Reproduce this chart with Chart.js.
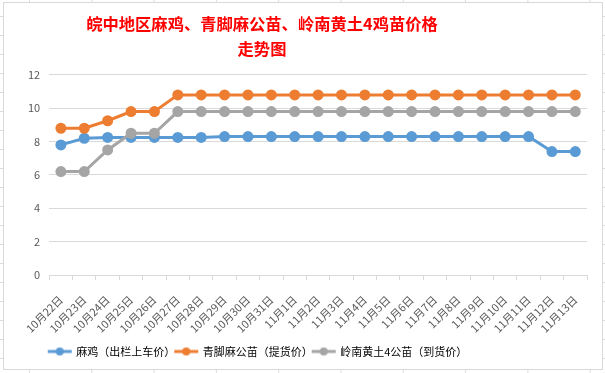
<!DOCTYPE html>
<html>
<head>
<meta charset="utf-8">
<script src="https://cdn.jsdelivr.net/npm/chart.js@4/dist/chart.umd.min.js"></script>
<style>
html, body { margin: 0; padding: 0; }
body {
    width: 605px; height: 373px; overflow: hidden; background-color: #fff;
    /* spreadsheet cell lines behind the chart */
    background-image: linear-gradient(to right, #dcdcdc 1px, transparent 1px),
                      linear-gradient(to bottom, #dcdcdc 1px, transparent 1px);
    background-size: 62.3px 19px;
    background-position: 29px 16px;
}
#box {
    position: absolute; left: 3px; top: 2px; width: 600px; height: 368px;
    box-sizing: border-box; border: 1px solid #d9d9d9; background: #fff;
}
canvas { display: block; }
</style>
</head>
<body>
<div id="box"><canvas id="priceChart" width="598" height="366"></canvas></div>
<script>
const days = [
    "10月22日", "10月23日", "10月24日", "10月25日", "10月26日", "10月27日", "10月28日",
    "10月29日", "10月30日", "10月31日", "11月1日", "11月2日", "11月3日", "11月4日",
    "11月5日", "11月6日", "11月7日", "11月8日", "11月9日", "11月10日", "11月11日",
    "11月12日", "11月13日"
];

// 麻鸡（出栏上车价）
const maJi = [7.8, 8.2, 8.25, 8.25, 8.25, 8.25, 8.25, 8.3, 8.3, 8.3, 8.3, 8.3,
              8.3, 8.3, 8.3, 8.3, 8.3, 8.3, 8.3, 8.3, 8.3, 7.4, 7.4];
// 青脚麻公苗（提货价）
const qingJiao = [8.8, 8.8, 9.25, 9.8, 9.8, 10.8, 10.8, 10.8, 10.8, 10.8, 10.8, 10.8,
                  10.8, 10.8, 10.8, 10.8, 10.8, 10.8, 10.8, 10.8, 10.8, 10.8, 10.8];
// 岭南黄土4公苗（到货价）
const lingNan = [6.2, 6.2, 7.5, 8.5, 8.5, 9.8, 9.8, 9.8, 9.8, 9.8, 9.8, 9.8,
                 9.8, 9.8, 9.8, 9.8, 9.8, 9.8, 9.8, 9.8, 9.8, 9.8, 9.8];

const yTicks = [0, 2, 4, 6, 8, 10, 12];

const FONT = "'Noto Sans CJK SC', 'Noto Sans', sans-serif";
const TEXT_COLOR = "#595959";
const GRID_COLOR = "#d9d9d9";

// small line-with-dot picture for the legend, like Excel's marker
function legendMarker(color) {
    const c = document.createElement("canvas");
    c.width = 26;
    c.height = 10;
    const g = c.getContext("2d");
    g.strokeStyle = color;
    g.lineWidth = 3;
    g.beginPath();
    g.moveTo(1, 5);
    g.lineTo(25, 5);
    g.stroke();
    g.fillStyle = color;
    g.beginPath();
    g.arc(13, 5, 4, 0, Math.PI * 2);
    g.fill();
    return c;
}

// title and legend sit left of the canvas centre in the original
const shiftBoxes = {
    id: "shiftBoxes",
    afterLayout(chart) {
        chart.titleBlock.left -= 41;
        chart.titleBlock.right -= 41;
        chart.legend.left -= 45;
        chart.legend.right -= 45;
    }
};

function series(label, data, color, order) {
    return {
        label: label,
        data: data,
        borderColor: color,
        backgroundColor: color,
        borderWidth: 3,
        pointRadius: 4,
        pointHoverRadius: 4,
        pointBackgroundColor: color,
        pointBorderColor: color,
        tension: 0,
        fill: false,
        order: order
    };
}

const ctx = document.getElementById("priceChart").getContext("2d");
new Chart(ctx, {
    type: "line",
    data: {
        labels: days,
        datasets: [
            series("麻鸡（出栏上车价）", maJi, "#5b9bd5", 3),
            series("青脚麻公苗（提货价）", qingJiao, "#ed7d31", 2),
            series("岭南黄土4公苗（到货价）", lingNan, "#a5a5a5", 1)
        ]
    },
    options: {
        responsive: false,
        devicePixelRatio: 1,
        animation: false,
        layout: { padding: { left: 15, right: 15, top: 0, bottom: 2 } },
        plugins: {
            title: {
                display: true,
                text: ["皖中地区麻鸡、青脚麻公苗、岭南黄土4鸡苗价格", "走势图"],
                color: "#ff0000",
                font: { family: FONT, size: 16.3, weight: "bold", lineHeight: 1.53 },
                padding: { top: 8, bottom: 14 }
            },
            legend: {
                position: "bottom",
                labels: {
                    color: TEXT_COLOR,
                    font: { family: FONT, size: 11 },
                    usePointStyle: true,
                    pointStyleWidth: 22,
                    padding: 0,
                    generateLabels: chart => chart.data.datasets.map((ds, i) => ({
                        text: ds.label,
                        fillStyle: ds.borderColor,
                        strokeStyle: ds.borderColor,
                        lineWidth: 0,
                        pointStyle: legendMarker(ds.borderColor),
                        hidden: !chart.isDatasetVisible(i),
                        datasetIndex: i
                    }))
                }
            },
            tooltip: { enabled: false }
        },
        scales: {
            x: {
                offset: true,
                afterFit: scale => { scale.height = 71; },
                grid: {
                    offset: true,
                    drawOnChartArea: false,
                    drawTicks: true,
                    tickLength: 5,
                    color: GRID_COLOR
                },
                border: { display: true, color: GRID_COLOR },
                ticks: {
                    color: TEXT_COLOR,
                    font: { family: FONT, size: 11 },
                    autoSkip: false,
                    minRotation: 45,
                    maxRotation: 45,
                    padding: 13
                }
            },
            y: {
                min: yTicks[0],
                max: yTicks[yTicks.length - 1],
                afterBuildTicks: scale => { scale.ticks = yTicks.map(v => ({ value: v })); },
                grid: { color: GRID_COLOR, drawTicks: false },
                border: { display: false },
                ticks: {
                    color: TEXT_COLOR,
                    font: { family: FONT, size: 11 },
                    padding: 9
                }
            }
        }
    },
    plugins: [shiftBoxes]
});
</script>
</body>
</html>
